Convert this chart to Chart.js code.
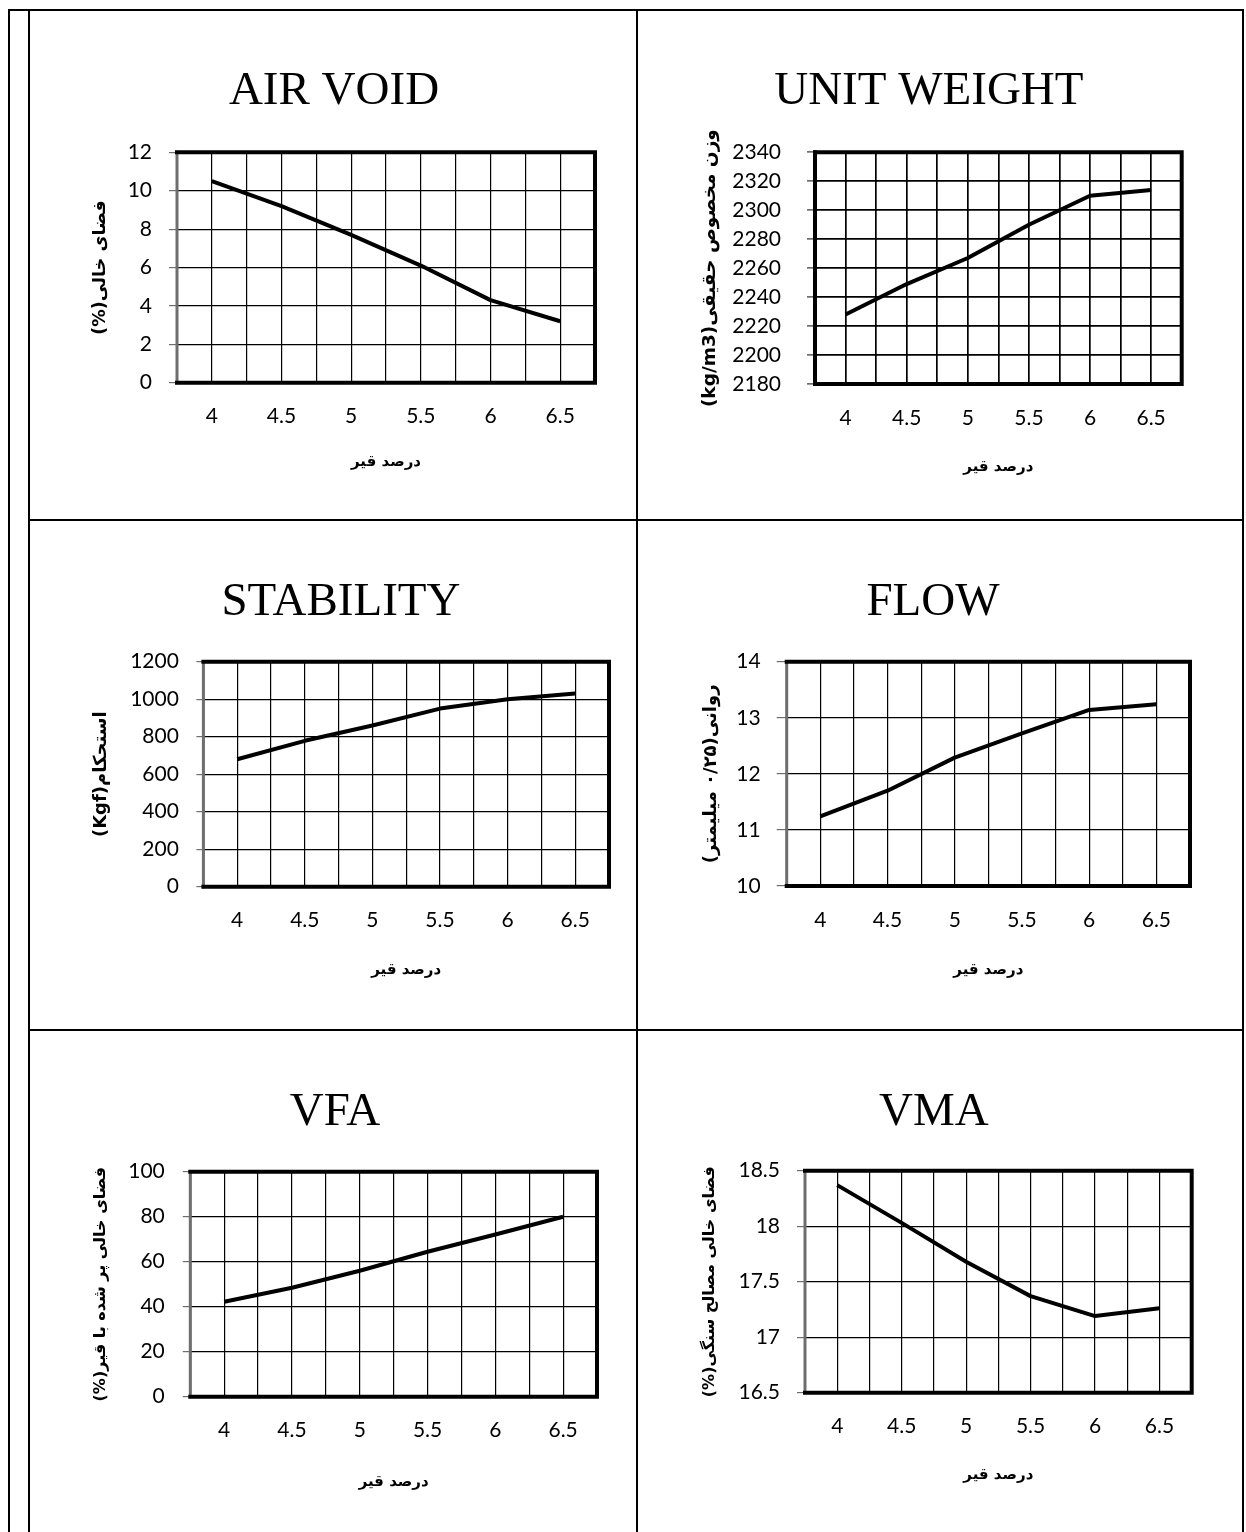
<!DOCTYPE html>
<html lang="fa">
<head>
<meta charset="utf-8">
<title>Marshall mix design – bitumen content charts</title>
<script src="https://cdn.jsdelivr.net/npm/chart.js@4.4.1/dist/chart.umd.min.js"></script>
<style>
  html, body { margin: 0; padding: 0; background: #fff; }
  #page { position: relative; width: 1246px; height: 1532px; overflow: hidden; background: #fff; }
  .rule { position: absolute; background: #000; }
  canvas { position: absolute; }
</style>
</head>
<body>
<div id="page"></div>
<script>
// Bitumen content (%) shared by all six panels
const bitumenPct  = [4, 4.5, 5, 5.5, 6, 6.5];
const xTickLabels = ['4', '4.5', '5', '5.5', '6', '6.5'];
const xAxisTitle  = 'درصد قیر';

// Measured mix properties at each bitumen content
const airVoid    = [10.5, 9.2, 7.7, 6.1, 4.3, 3.2];
const unitWeight = [2228, 2249, 2267, 2290, 2310, 2314];
const stability  = [680, 778, 860, 950, 1000, 1030];
const flow       = [11.24, 11.7, 12.29, 12.72, 13.14, 13.24];
const vfa        = [42.2, 48.4, 56, 64.4, 72.1, 80];
const vma        = [18.37, 18.03, 17.68, 17.37, 17.19, 17.26];

// y-axis tick values of each panel
const airVoidTicks    = [0, 2, 4, 6, 8, 10, 12];
const unitWeightTicks = [2180, 2200, 2220, 2240, 2260, 2280, 2300, 2320, 2340];
const stabilityTicks  = [0, 200, 400, 600, 800, 1000, 1200];
const flowTicks       = [10, 11, 12, 13, 14];
const vfaTicks        = [0, 20, 40, 60, 80, 100];
const vmaTicks        = [16.5, 17, 17.5, 18, 18.5];

// Page layout: table rules and panel geometry (pixels)
const rowTops = [9, 520, 1030];
const rules = [
  [8, 9, 2, 1523], [28, 9, 2, 1523], [636, 9, 2, 1523], [1242, 9, 2, 1523],
  [8, 9, 1236, 2], [28, 519, 1216, 2], [28, 1029, 1216, 2]
];

const panels = [
  { title: 'AIR VOID', yTitle: 'فضای خالی(%)', yTitleSize: 17.5, values: airVoid, yTicks: airVoidTicks,
    row: 0, x0: 73, plot: [177, 152.3, 595, 382.7], yTitleX: 100, tickLen: 8, tickPad: 17, xTitleGap: 79, hardLeft: false },
  { title: 'UNIT WEIGHT', yTitle: 'وزن مخصوص حقیقی(kg/m3)', yTitleSize: 18.5, values: unitWeight, yTicks: unitWeightTicks,
    row: 0, x0: 676, plot: [815, 152.3, 1181.7, 384], yTitleX: 710, tickLen: 8, tickPad: 26, xTitleGap: 83, hardLeft: true, grid: 1.7 },
  { title: 'STABILITY', yTitle: 'استحکام(Kgf)', yTitleSize: 18, values: stability, yTicks: stabilityTicks,
    row: 1, x0: 73, plot: [203.4, 661.7, 609, 886.7], yTitleX: 101, tickLen: 7, tickPad: 17.5, xTitleGap: 83, hardLeft: false },
  { title: 'FLOW', yTitle: 'روانی(۰/۲۵ میلیمتر)', yTitleSize: 18, values: flow, yTicks: flowTicks,
    row: 1, x0: 676, plot: [786.7, 661.7, 1190, 886], yTitleX: 711.7, tickLen: 10, tickPad: 16, xTitleGap: 84, hardLeft: false },
  { title: 'VFA', yTitle: 'فضای خالی پر شده با قیر(%)', yTitleSize: 16, values: vfa, yTicks: vfaTicks,
    row: 2, x0: 73, plot: [190.3, 1171.7, 597, 1396.7], yTitleX: 100.7, tickLen: 7.5, tickPad: 18, xTitleGap: 85, hardLeft: false },
  { title: 'VMA', yTitle: 'فضای خالی مصالح سنگی(%)', yTitleSize: 16, values: vma, yTicks: vmaTicks,
    row: 2, x0: 676, plot: [805, 1170.7, 1191.7, 1392.7], yTitleX: 710, tickLen: 8, tickPad: 17, xTitleGap: 82, hardLeft: false }
];

const page = document.getElementById('page');
rules.forEach(([x, y, w, h]) => {
  const d = document.createElement('div');
  d.className = 'rule';
  d.style.cssText = `left:${x}px;top:${y}px;width:${w}px;height:${h}px;`;
  page.appendChild(d);
});

// Heavy frame around the plot area: black on top, right and bottom,
// and a lighter grey rule on the value-axis side.
const plotFrame = {
  id: 'plotFrame',
  afterDraw(chart, args, opts) {
    const { ctx, chartArea: a } = chart;
    ctx.save();
    ctx.lineCap = 'square';
    ctx.strokeStyle = opts.leftColor;
    ctx.lineWidth = opts.leftWidth;
    ctx.beginPath();
    ctx.moveTo(a.left, a.top);
    ctx.lineTo(a.left, a.bottom);
    ctx.stroke();
    ctx.strokeStyle = '#000';
    ctx.lineWidth = 4;
    ctx.beginPath();
    ctx.moveTo(a.left, a.top);
    ctx.lineTo(a.right, a.top);
    ctx.lineTo(a.right, a.bottom);
    ctx.lineTo(a.left, a.bottom);
    ctx.stroke();
    ctx.restore();
  }
};

Chart.defaults.font.family = 'Lato, "Open Sans", sans-serif';
Chart.defaults.color = '#000';

const TITLE_SIZE = 47, X_TITLE_SIZE = 15, TICK_SIZE = 21;

panels.forEach((p) => {
  const rowTop = rowTops[p.row];
  const top = rowTop + 2;
  const [pl, pt, pr, pb] = p.plot;
  const titleLH = TITLE_SIZE * 1.2;
  const titleY = rowTop + 83;
  const xTitleLH = X_TITLE_SIZE * 1.2;
  const axisBottom = pb + p.xTitleGap + xTitleLH / 2 + 6;
  const W = Math.round(pr + 5 - p.x0);
  const H = Math.round(axisBottom - top);

  const canvas = document.createElement('canvas');
  canvas.width = W;
  canvas.height = H;
  canvas.setAttribute('dir', 'rtl');
  canvas.style.left = p.x0 + 'px';
  canvas.style.top = top + 'px';
  canvas.style.width = W + 'px';
  canvas.style.height = H + 'px';
  page.appendChild(canvas);

  const titleTop = titleY - top - titleLH / 2;
  const titleBottom = pt - top - titleTop - titleLH;
  const gridWidth = p.grid || 1.2;
  const tickLH = TICK_SIZE * 1.2;

  new Chart(canvas, {
    type: 'line',
    data: {
      datasets: [{
        data: bitumenPct.map((x, i) => ({ x, y: p.values[i] })),
        borderColor: '#000',
        borderWidth: 4,
        borderJoinStyle: 'round',
        pointRadius: 0,
        tension: 0,
        fill: false
      }]
    },
    options: {
      responsive: false,
      animation: false,
      devicePixelRatio: 1,
      layout: { autoPadding: false, padding: { left: 0, top: 0, right: W - (pr - p.x0), bottom: 0 } },
      plugins: {
        legend: { display: false },
        tooltip: { enabled: false },
        title: {
          display: true,
          text: p.title,
          color: '#000',
          font: { family: '"Liberation Serif", "Times New Roman", serif', size: TITLE_SIZE, weight: 'normal', lineHeight: 1.2 },
          padding: { top: titleTop, bottom: titleBottom }
        },
        plotFrame: { leftColor: p.hardLeft ? '#000' : '#6e6e6e', leftWidth: p.hardLeft ? 4 : 3 }
      },
      scales: {
        x: {
          type: 'linear',
          min: bitumenPct[0] - 0.25,
          max: bitumenPct[bitumenPct.length - 1] + 0.25,
          border: { display: false },
          grid: { color: '#000', lineWidth: gridWidth, drawTicks: false },
          ticks: {
            stepSize: 0.25,
            autoSkip: false,
            maxRotation: 0,
            padding: 34 - tickLH / 2,
            color: '#000',
            font: { size: TICK_SIZE },
            callback: (v) => {
              const i = bitumenPct.indexOf(v);
              return i < 0 ? '' : xTickLabels[i];
            }
          },
          title: {
            display: true,
            text: xAxisTitle,
            color: '#000',
            font: { family: '"DejaVu Sans", sans-serif', size: X_TITLE_SIZE, weight: 'bold', lineHeight: 1.2 },
            padding: { top: 0, bottom: 6 }
          },
          afterFit: (s) => {
            s.height = H - (pb - top);
            s.paddingLeft = 0;
            s.paddingRight = 0;
          }
        },
        y: {
          type: 'linear',
          min: p.yTicks[0],
          max: p.yTicks[p.yTicks.length - 1],
          afterBuildTicks: (s) => { s.ticks = p.yTicks.map((v) => ({ value: v })); },
          border: { display: false },
          grid: { color: '#000', lineWidth: gridWidth, tickColor: '#6e6e6e', tickLength: p.tickLen, drawTicks: true },
          ticks: {
            padding: p.tickPad,
            color: '#000',
            font: { size: TICK_SIZE },
            callback: (v) => String(v)
          },
          title: {
            display: true,
            text: p.yTitle,
            color: '#000',
            font: { family: '"DejaVu Sans", sans-serif', size: p.yTitleSize, weight: 'bold', lineHeight: 1.2 },
            padding: { top: p.yTitleX - p.x0 - p.yTitleSize * 0.6, bottom: 0 }
          },
          afterFit: (s) => { s.width = pl - p.x0; }
        }
      }
    },
    plugins: [plotFrame]
  });
});
</script>
</body>
</html>
